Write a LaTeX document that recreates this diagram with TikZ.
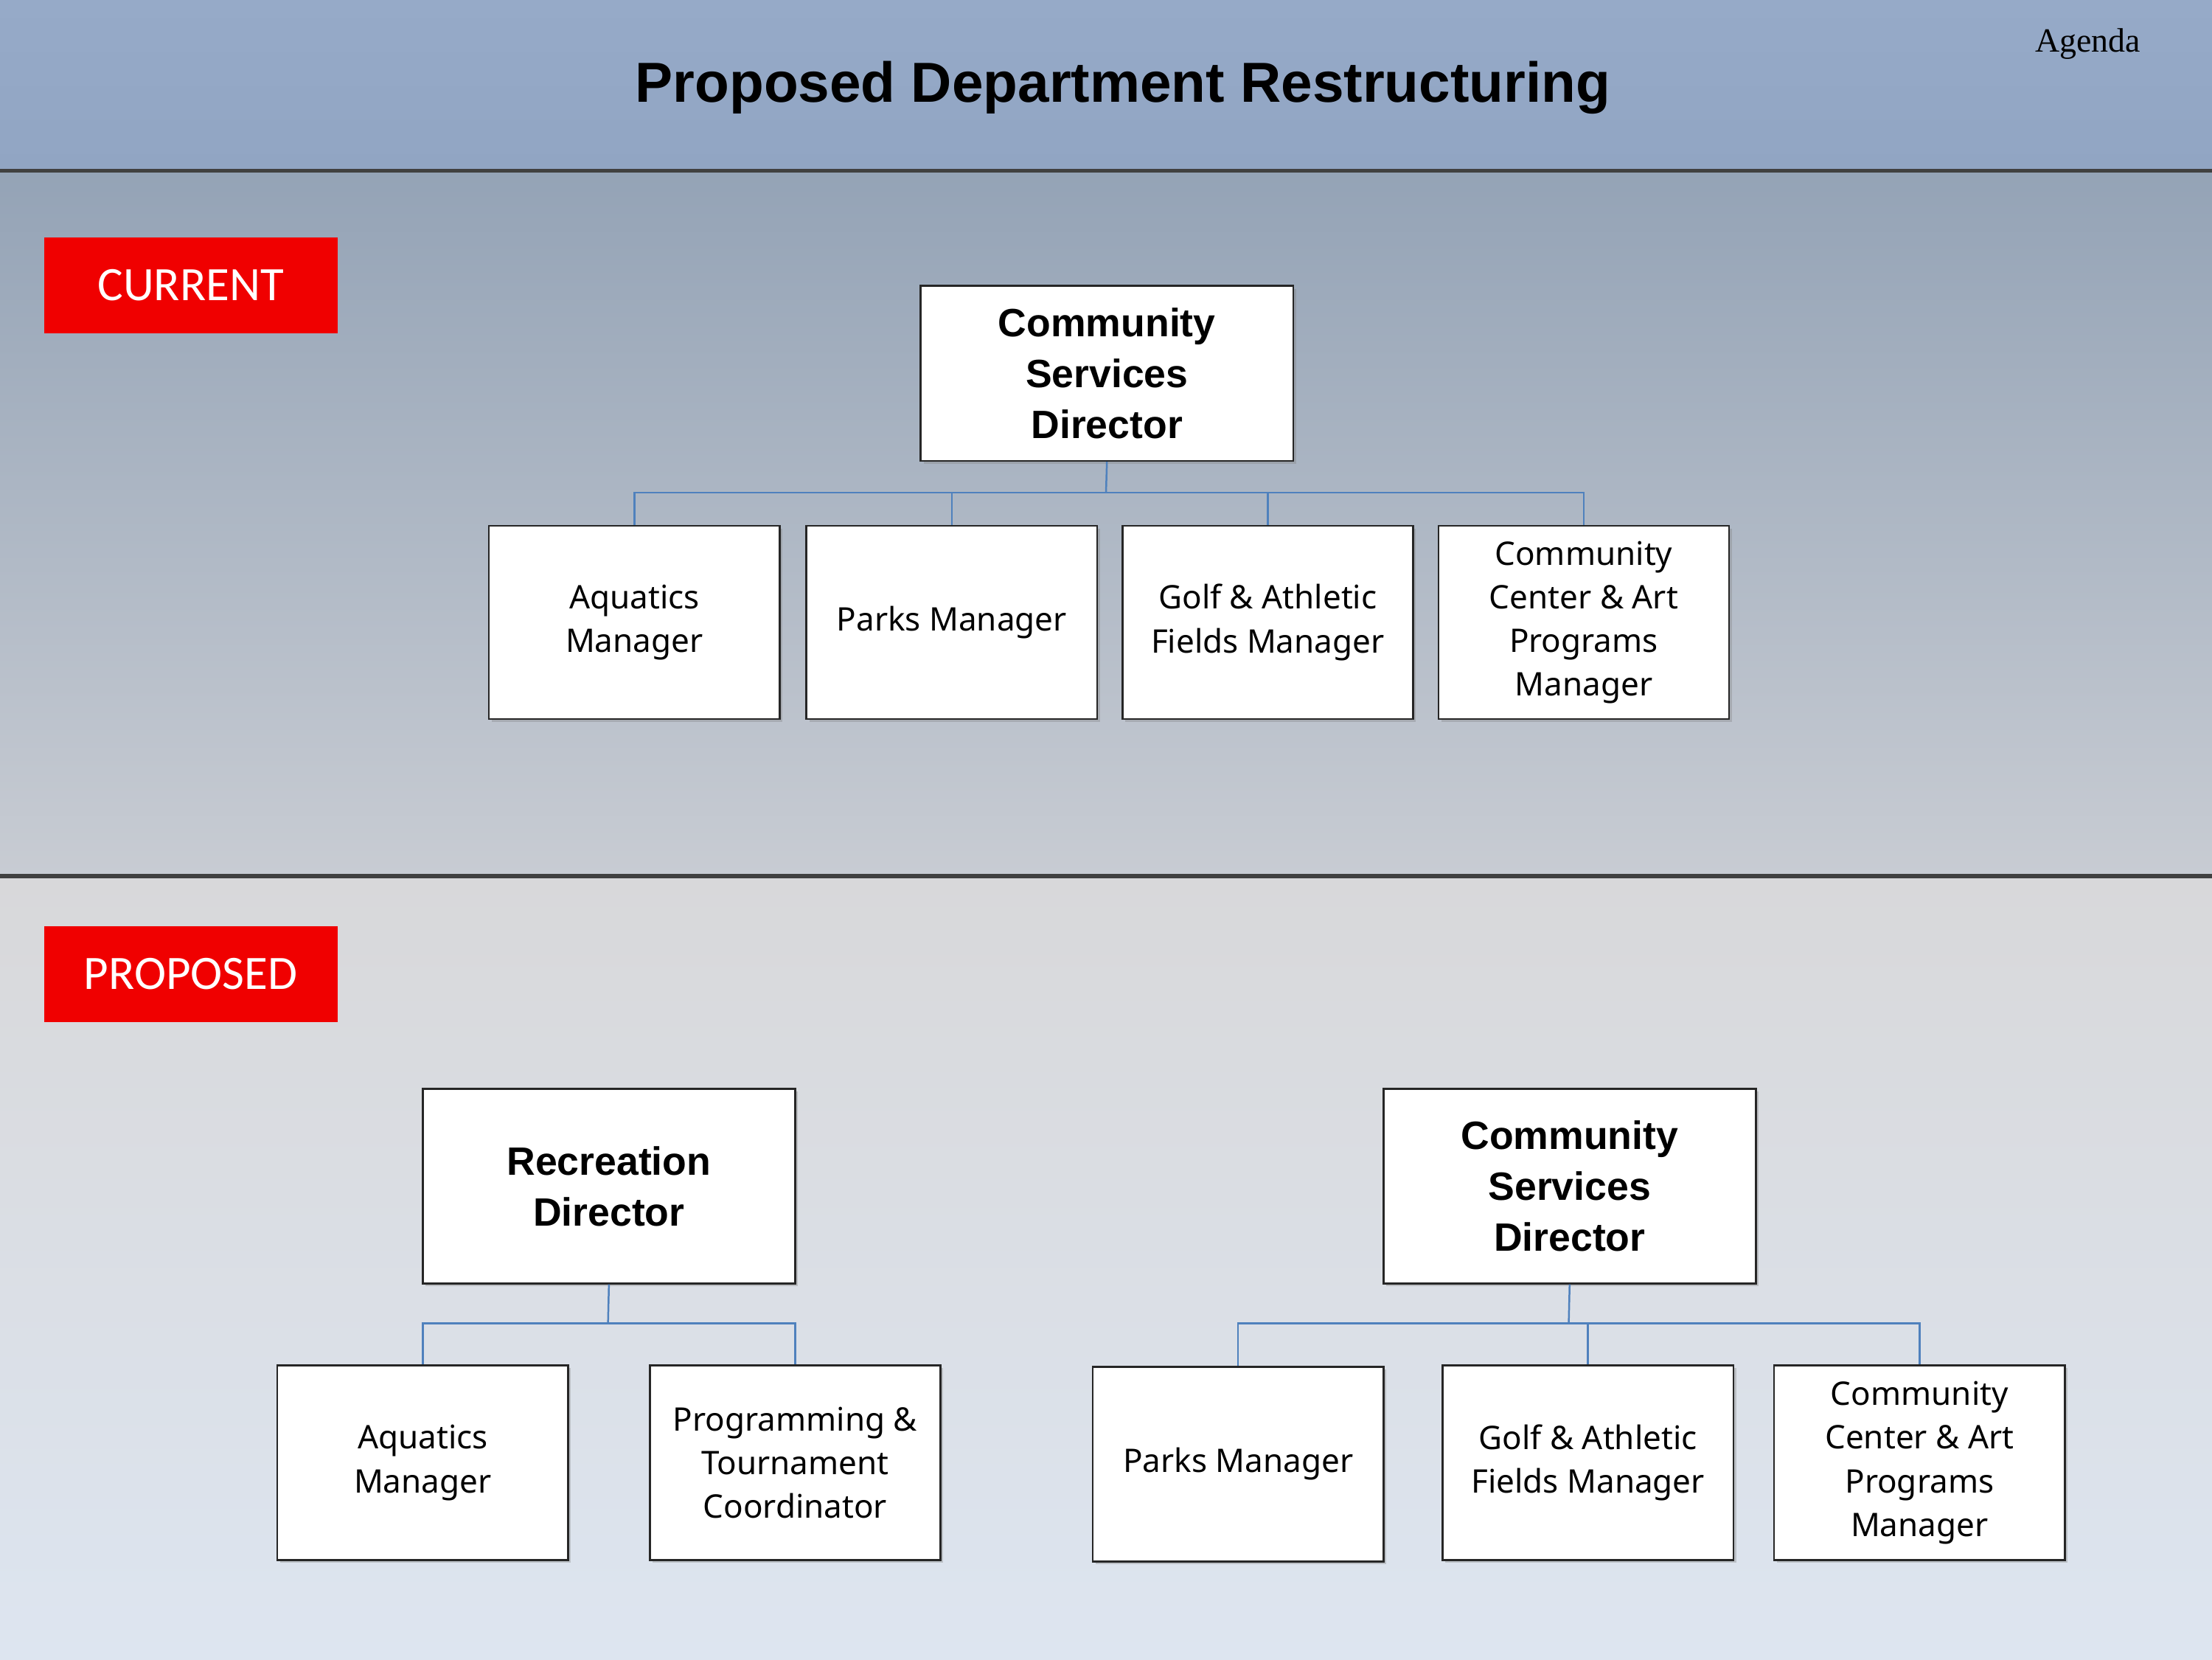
\documentclass[tikz,border=0pt]{standalone}
\usepackage{fontspec}
\setmainfont{Noto Sans}
\newfontfamily\titlef{Liberation Sans}
\newfontfamily\labf{Carlito}
\newfontfamily\serf{Liberation Serif}
\usetikzlibrary{shadows}
\begin{document}
\begin{tikzpicture}[x=1pt,y=-1pt,
 box/.style={draw=black!85,line width=1.3pt,fill=white,align=center,inner sep=0pt,anchor=north west,drop shadow={shadow xshift=2pt,shadow yshift=-2pt,opacity=0.35}},
 boss/.style={box,font=\titlef\bfseries\fontsize{28}{36}\selectfont},
 sub/.style={box,font=\fontsize{23}{31}\selectfont},
 wire/.style={draw=blue!50!cyan!60!black!80,line width=1.3pt,color={rgb,255:red,79;green,129;blue,189}},
 tag/.style={fill={rgb,255:red,240;green,0;blue,0},text=white,font=\labf\fontsize{34}{40}\selectfont,minimum width=208pt,minimum height=68pt,anchor=north west,inner sep=0pt}]
\useasboundingbox (0,0) rectangle (1568,1176);
\definecolor{hA}{RGB}{150,170,200}\definecolor{hB}{RGB}{145,165,195}
\definecolor{mA}{RGB}{148,163,182}\definecolor{mB}{RGB}{200,204,211}
\definecolor{bA}{RGB}{216,216,218}\definecolor{bB}{RGB}{221,229,240}
\shade[top color=hA,bottom color=hB] (0,0) rectangle (1568,121);
\shade[top color=mA,bottom color=mB] (0,121) rectangle (1568,621);
\shade[top color=bA,bottom color=bB] (0,621) rectangle (1568,1176);
\draw[line width=3pt,black!75] (0,121) -- (1568,121);
\draw[line width=3pt,black!75] (0,621) -- (1568,621);
\node[font=\titlef\bfseries\fontsize{40}{48}\selectfont] (title) at (796,62) {Proposed Department Restructuring};
\node[font=\serf\fontsize{24}{28}\selectfont] (agenda) at (1480,31) {Agenda};
\node[tag] (cur) at (31,168) {CURRENT};
\node[tag] (prop) at (31,656) {PROPOSED};
% current
\node[boss,minimum width=264pt,minimum height=124pt] (d1) at (652,202) {Community\\Services\\Director};
\foreach \n/\x/\t in {a1/346/{Aquatics\\Manager},a2/571/{Parks Manager},a3/795/{Golf \& Athletic\\Fields Manager},a4/1019/{Community\\Center \& Art\\Programs\\Manager}}
 \node[sub,minimum width=206pt,minimum height=137pt] (\n) at (\x,372) {\t};
\coordinate (bus1) at (784,349);
\draw[wire] (d1.south) -- (bus1);
\foreach \n in {a1,a2,a3,a4} \draw[wire] (bus1) -| (\n.north);
% proposed left
\node[boss,minimum width=264pt,minimum height=138pt] (r) at (299,771) {Recreation\\Director};
\node[sub,minimum width=206pt,minimum height=138pt] (b1) at (196,967) {Aquatics\\Manager};
\node[sub,minimum width=206pt,minimum height=138pt] (b2) at (460,967) {Programming \&\\Tournament\\Coordinator};
\coordinate (bus2) at (431,938);
\draw[wire] (r.south) -- (bus2);
\foreach \n in {b1,b2} \draw[wire] (bus2) -| (\n.north);
% proposed right
\node[boss,minimum width=264pt,minimum height=138pt] (d2) at (980,771) {Community\\Services\\Director};
\node[sub,minimum width=206pt,minimum height=138pt] (c1) at (774,968) {Parks Manager};
\node[sub,minimum width=206pt,minimum height=138pt] (c2) at (1022,967) {Golf \& Athletic\\Fields Manager};
\node[sub,minimum width=206pt,minimum height=138pt] (c3) at (1257,967) {Community\\Center \& Art\\Programs\\Manager};
\coordinate (bus3) at (1112,938);
\draw[wire] (d2.south) -- (bus3);
\foreach \n in {c1,c2,c3} \draw[wire] (bus3) -| (\n.north);
\end{tikzpicture}
\end{document}
